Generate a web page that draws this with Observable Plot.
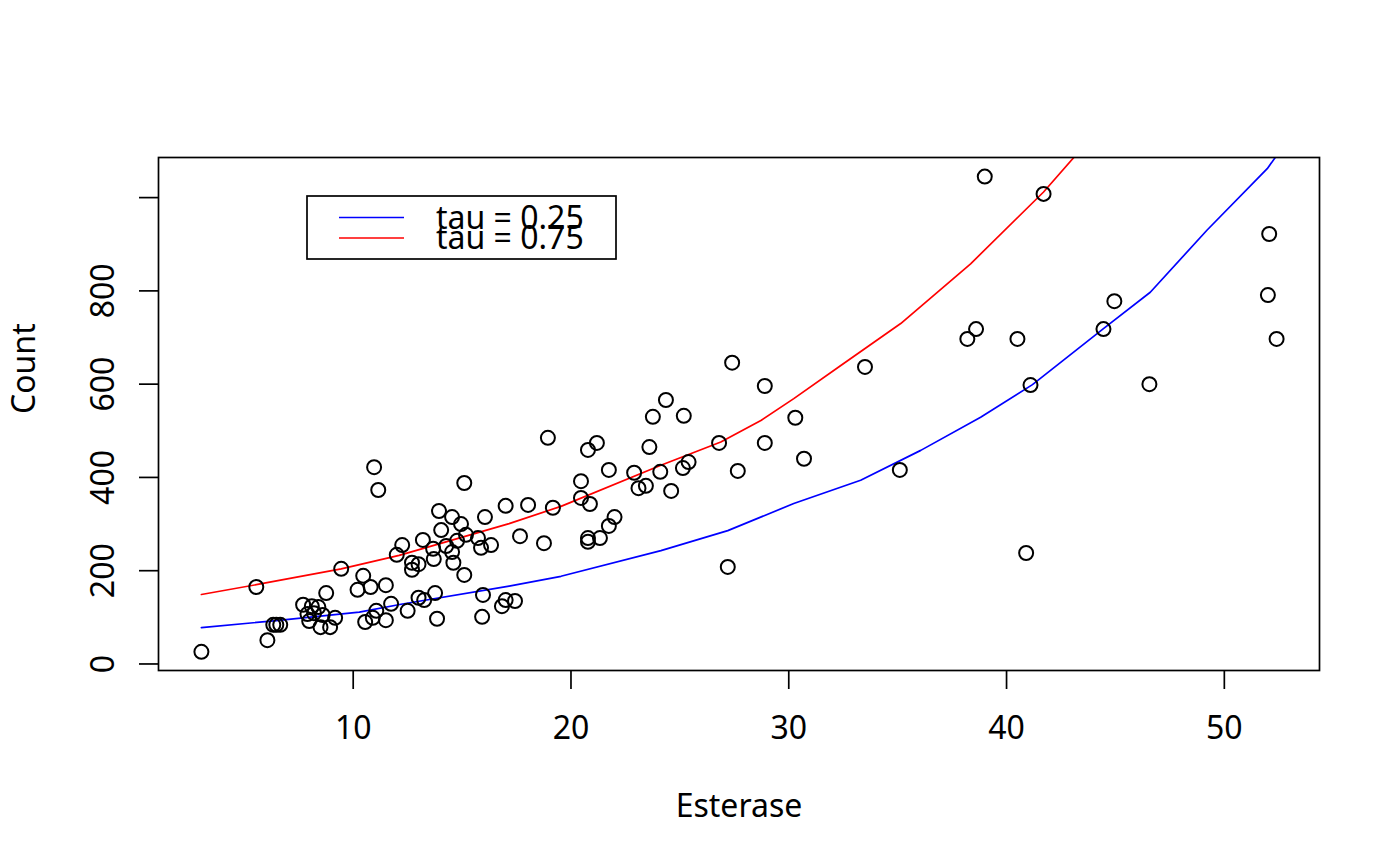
<!DOCTYPE html>
<html>
<head>
<meta charset="utf-8">
<script src="https://cdn.jsdelivr.net/npm/d3@7"></script>
<script src="https://cdn.jsdelivr.net/npm/@observablehq/plot@0.6"></script>
<style>
  html, body { margin: 0; padding: 0; background: white; }
  #chart svg { display: block; }
</style>
</head>
<body>
<div id="chart"></div>
<script>
const esterase = [
  3.03, 5.55, 6.06, 6.33, 6.47, 6.65, 7.7, 7.9, 7.98, 8.1,
  8.2, 8.4, 8.5, 8.6, 8.76, 8.94, 9.17, 9.45, 10.2, 10.46,
  10.55, 10.8, 10.9, 10.96, 11.06, 11.15, 11.5, 11.5, 11.74, 12.0,
  12.25, 12.5, 12.7, 12.7, 13.0, 13.0, 13.2, 13.26, 13.67, 13.7,
  13.76, 13.85, 13.94, 14.04, 14.27, 14.54, 14.54, 14.6, 14.77, 14.95,
  15.1, 15.1, 15.18, 15.73, 15.87, 15.92, 15.96, 16.05, 16.33, 16.83,
  17.0, 17.0, 17.43, 17.66, 18.03, 18.76, 18.94, 19.17, 20.46, 20.46,
  20.78, 20.78, 20.78, 20.87, 21.19, 21.33, 21.74, 21.74, 22.0, 22.9,
  23.1, 23.44, 23.6, 23.76, 24.1, 24.36, 24.6, 25.14, 25.18, 25.4,
  26.8, 27.2, 27.4, 27.66, 28.9, 28.9, 30.3, 30.7, 33.5, 35.1,
  38.2, 38.6, 39.0, 40.5, 40.9, 41.1, 41.7, 44.45, 44.95, 46.56,
  52.0, 52.06, 52.4
];
const count = [
  26, 165, 51, 84, 84, 84, 127, 107, 92, 124,
  109, 122, 79, 105, 152, 79, 99, 204, 159, 189,
  90, 165, 99, 422, 114, 373, 169, 94, 129, 234,
  255, 114, 217, 202, 214, 142, 266, 137, 247, 225,
  152, 97, 328, 287, 253, 315, 240, 217, 264, 300,
  388, 191, 277, 270, 249, 101, 148, 315, 255, 124,
  339, 137, 135, 274, 341, 259, 485, 335, 392, 356,
  459, 270, 262, 343, 474, 270, 416, 296, 315, 410,
  377, 382, 465, 530, 412, 566, 371, 420, 532, 433,
  474, 208, 646, 414, 596, 474, 528, 440, 637, 416,
  697, 718, 1045, 697, 238, 598, 1008, 718, 778, 600,
  791, 922, 697
];

// Fitted quantile curves
const q25x = [3.03, 6.47, 10.28, 12.2, 17.16, 19.54, 24.13, 27.2, 30.23, 33.3, 36.06, 38.81, 41.19, 44.45, 46.6, 49.2, 51.97, 52.4];
const q25y = [78, 93, 111, 128, 167, 188, 243, 286, 344, 394, 458, 529, 599, 719, 797, 930, 1062, 1090];
const q75x = [3.03, 5.55, 9.45, 12.11, 14.5, 17.16, 19.54, 24.13, 26.88, 28.72, 30.23, 32.39, 35.14, 38.35, 41.7, 43.2];
const q75y = [149, 170, 204, 233, 265, 301, 338, 426, 476, 522, 569, 640, 730, 858, 1012, 1092];

const xTicks = [10, 20, 30, 40, 50];
const yTicks = [0, 200, 400, 600, 800, 1000];
const yLabelled = [0, 200, 400, 600, 800];

const legendLabels = ["tau = 0.25", "tau = 0.75"];
const legendColors = ["blue", "red"];

const points = esterase.map((e, i) => ({Esterase: e, Count: count[i]}));
const line25 = q25x.map((x, i) => ({x, y: q25y[i]}));
const line75 = q75x.map((x, i) => ({x, y: q75y[i]}));

const FONT = "Noto Sans, Open Sans, DejaVu Sans, sans-serif";
const LW = 1.7;

const plot = Plot.plot({
  width: 1400,
  height: 866,
  marginLeft: 158,
  marginRight: 81,
  marginTop: 157,
  marginBottom: 196,
  style: {fontFamily: FONT, fontSize: "32px", background: "white", color: "black"},
  x: {domain: [1.06, 54.37]},
  y: {domain: [-14, 1086]},
  marks: [
    Plot.axisX({ticks: xTicks, tickSize: 19, tickPadding: 27, fontSize: 32, strokeWidth: LW, label: null}),
    Plot.axisY({ticks: yTicks, tickFormat: d => yLabelled.includes(d) ? String(d) : "",
                tickSize: 19, tickPadding: 26, tickRotate: -90, fontSize: 32, strokeWidth: LW, label: null}),
    Plot.line(line25, {x: "x", y: "y", stroke: "blue", strokeWidth: LW, clip: true}),
    Plot.line(line75, {x: "x", y: "y", stroke: "red", strokeWidth: LW, clip: true}),
    Plot.dot(points, {x: "Esterase", y: "Count", r: 7, stroke: "black", fill: "none", strokeWidth: 2}),
    Plot.frame({stroke: "black", strokeWidth: LW}),
    Plot.text(["Esterase"], {frameAnchor: "bottom", dy: 146, lineAnchor: "bottom", text: d => d, fontSize: 32}),
    Plot.text(["Count"], {frameAnchor: "left", dx: -134, rotate: -90, lineAnchor: "middle", text: d => d, fontSize: 32})
  ]
});

document.getElementById("chart").appendChild(plot);

// Legend box inside the plotting region (top-left)
const svg = d3.select(plot);
const lg = svg.append("g").attr("font-family", FONT).attr("font-size", 32).attr("text-anchor", "start");
lg.append("rect").attr("x", 307).attr("y", 196).attr("width", 309).attr("height", 63)
  .attr("fill", "white").attr("stroke", "black").attr("stroke-width", LW);
legendLabels.forEach((lab, i) => {
  const yy = 217.5 + i * 20.5;
  lg.append("line").attr("x1", 339).attr("x2", 404).attr("y1", yy).attr("y2", yy)
    .attr("stroke", legendColors[i]).attr("stroke-width", LW);
  lg.append("text").attr("x", 436).attr("y", 228.5 + i * 20.5).attr("fill", "black").text(lab);
});
</script>
</body>
</html>
